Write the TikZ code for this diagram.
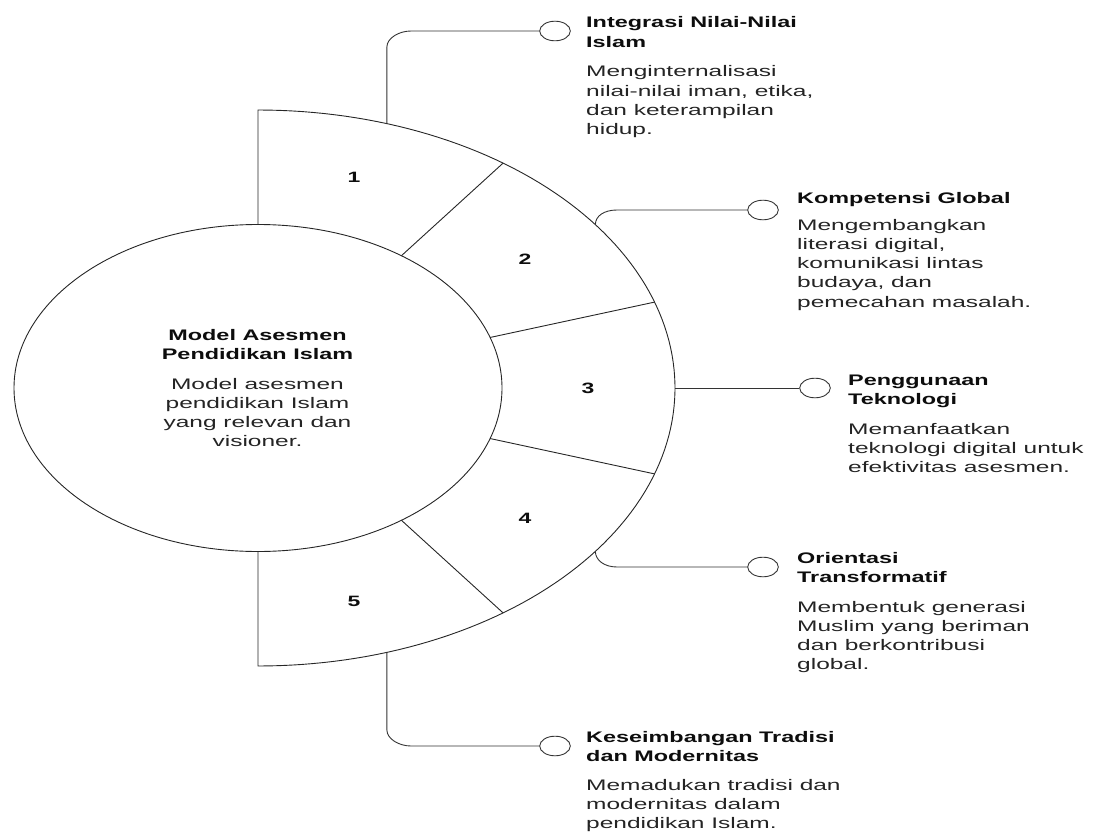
\documentclass[tikz,border=0pt]{standalone}
\usepackage{fontspec}
\setmainfont{Liberation Sans}
\newfontfamily\descfont{Liberation Sans}[FakeStretch=1.6]
\newfontfamily\ttlfont{Liberation Sans}[FakeStretch=1.53]
\usetikzlibrary{shapes.geometric}
\newcommand\blines[2]{\begin{tabular}[t]{@{}#1@{}}#2\end{tabular}}
\begin{document}
\begin{tikzpicture}[x=1pt,y=-1pt,
  ttl/.style={anchor=base west, inner sep=0, font=\ttlfont\bfseries\fontsize{15.3}{19.3}\selectfont, text=black!95},
  desc/.style={anchor=base west, inner sep=0, font=\descfont\fontsize{15.3}{19.3}\selectfont, text=black!86},
  num/.style={inner sep=0, font=\ttlfont\bfseries\fontsize{15}{18}\selectfont, text=black!95},
  dot/.style={ellipse, draw=black!80, line width=0.9pt, minimum width=30.6pt, minimum height=19.6pt, inner sep=0},
  conn/.style={draw=black!80, line width=0.9pt},
  ring/.style={draw=black!85, line width=0.9pt}]
\useasboundingbox (0,0) rectangle (1097,832);

% ring outline
\draw[ring] (258,224.5) -- (258,110)
  -- plot[domain=90:-90, samples=120] ({258+417*cos(\x)},{388-278*sin(\x)})
  -- (258,551.5);
\foreach \a in {54,18,-18,-54}
  \draw[ring] ({258+244*cos(\a)},{388-163.5*sin(\a)}) -- ({258+417*cos(\a)},{388-278*sin(\a)});
\draw[ring] (258,388) ellipse [x radius=244, y radius=163.5];

% segment numbers
\node[num] (n1) at (354,177) {1};
\node[num] (n2) at (525,259) {2};
\node[num] (n3) at (588,388) {3};
\node[num] (n4) at (525,518) {4};
\node[num] (n5) at (354,601) {5};

% anchor points on outer arc
\coordinate (p1) at ({258+417*cos(72)},{388-278*sin(72)});
\coordinate (p2) at ({258+417*cos(36)},{388-278*sin(36)});
\coordinate (p3) at (675,388);
\coordinate (p4) at ({258+417*cos(-36)},{388-278*sin(-36)});
\coordinate (p5) at ({258+417*cos(-72)},{388-278*sin(-72)});

% small circles
\node[dot] (c1) at (555,31) {};
\node[dot] (c2) at (763,210) {};
\node[dot] (c3) at (815,388) {};
\node[dot] (c4) at (763,567) {};
\node[dot] (c5) at (555,746) {};

% connectors
\draw[conn] (p1) -- (386.9,47) .. controls (386.9,38.2) and (398.8,31) .. (411,31) -- (c1.west);
\draw[conn] (p2) .. controls (595.4,216) and (604,210) .. (617,210) -- (c2.west);
\draw[conn] (p3) -- (c3.west);
\draw[conn] (p4) .. controls (595.4,560) and (604,567) .. (617,567) -- (c4.west);
\draw[conn] (p5) -- (386.9,730) .. controls (386.9,738.8) and (398.8,746) .. (411,746) -- (c5.west);

% centre text
\node[ttl, anchor=base] (ct) at (257.5,340) {\blines{c}{Model Asesmen\\Pendidikan Islam}};
\node[desc, anchor=base] (cd) at (257.5,389) {\blines{c}{Model asesmen\\pendidikan Islam\\yang relevan dan\\visioner.}};

% side texts
\node[ttl] (t1) at (586,28) {\blines{l}{Integrasi Nilai-Nilai\\Islam}};
\node[desc] (d1) at (586,77) {\blines{l}{Menginternalisasi\\nilai-nilai iman, etika,\\dan keterampilan\\hidup.}};
\node[ttl] (t2) at (797,203.5) {Kompetensi Global};
\node[desc] (d2) at (797,230) {\blines{l}{Mengembangkan\\literasi digital,\\komunikasi lintas\\budaya, dan\\pemecahan masalah.}};
\node[ttl] (t3) at (848,385) {\blines{l}{Penggunaan\\Teknologi}};
\node[desc] (d3) at (848,434) {\blines{l}{Memanfaatkan\\teknologi digital untuk\\efektivitas asesmen.}};
\node[ttl] (t4) at (797,563) {\blines{l}{Orientasi\\Transformatif}};
\node[desc] (d4) at (797,612) {\blines{l}{Membentuk generasi\\Muslim yang beriman\\dan berkontribusi\\global.}};
\node[ttl] (t5) at (586,742) {\blines{l}{Keseimbangan Tradisi\\dan Modernitas}};
\node[desc] (d5) at (586,790) {\blines{l}{Memadukan tradisi dan\\modernitas dalam\\pendidikan Islam.}};
\end{tikzpicture}
\end{document}
